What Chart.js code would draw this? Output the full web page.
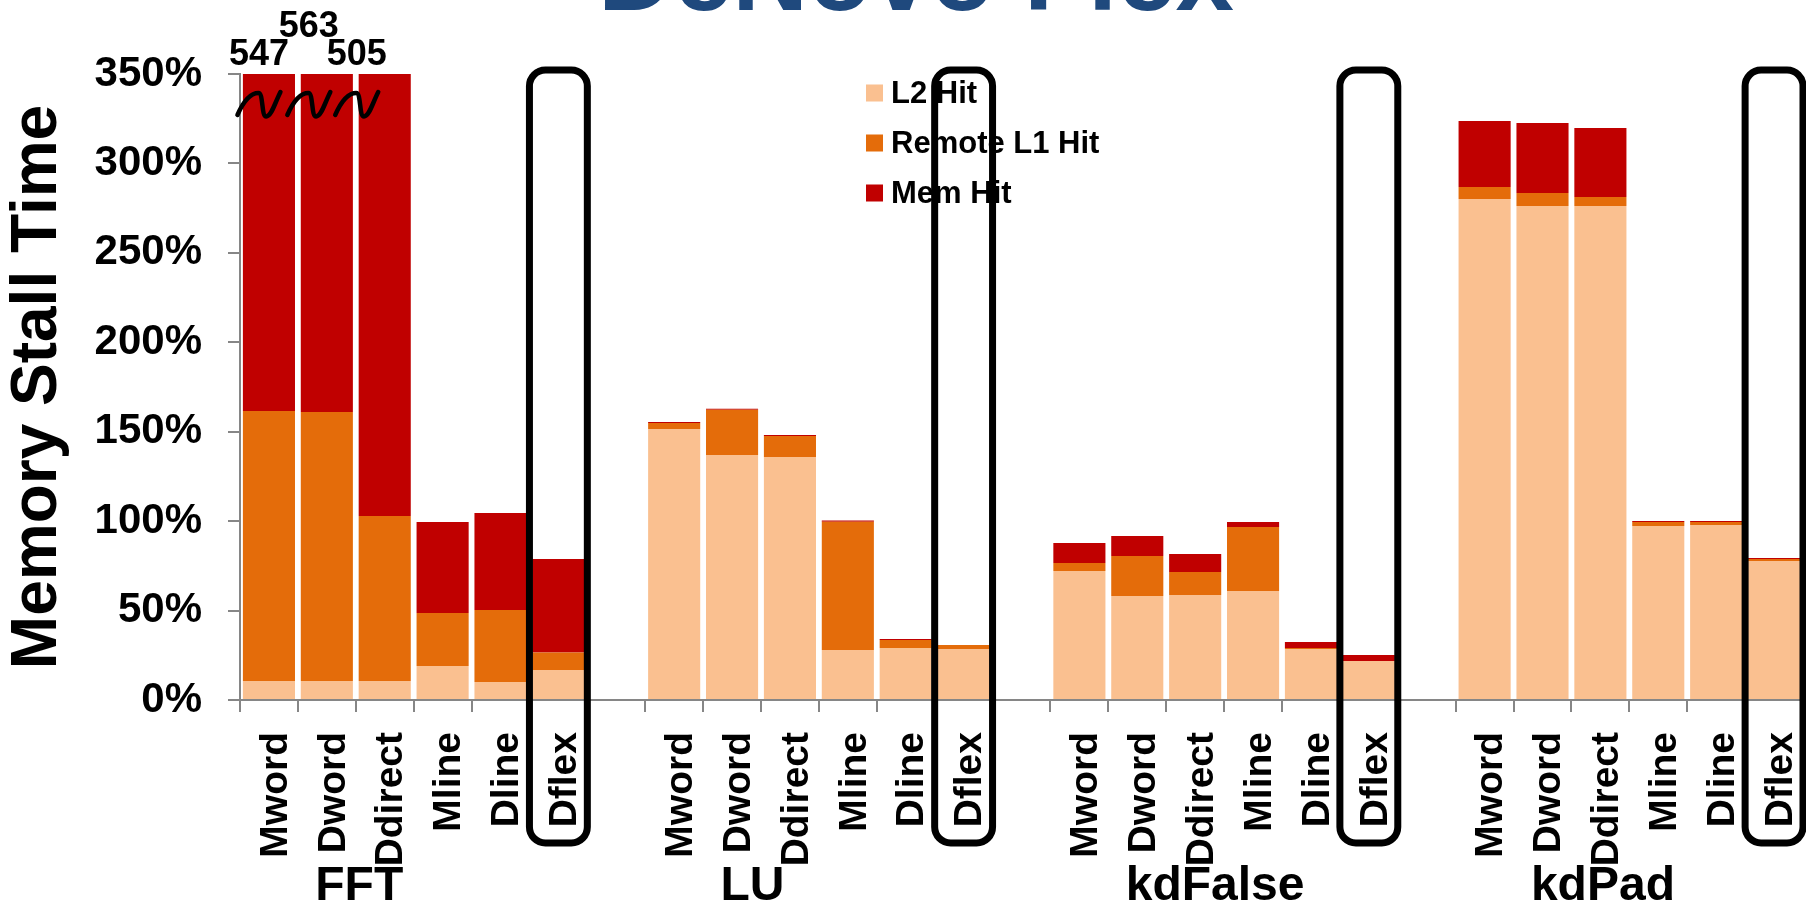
<!DOCTYPE html>
<html>
<head>
<meta charset="utf-8">
<script src="https://cdn.jsdelivr.net/npm/chart.js@4.4.1/dist/chart.umd.min.js"></script>
<style>
  html, body { margin: 0; padding: 0; background: #ffffff; }
  #wrap { width: 1806px; height: 908px; position: relative; }
</style>
</head>
<body>
<div id="wrap"><canvas id="chart" width="1806" height="908"></canvas></div>
<script>
// Benchmarks and the coherence configurations run for each of them
const benchmarks = ['FFT', 'LU', 'kdFalse', 'kdPad'];
const configs = ['Mword', 'Dword', 'Ddirect', 'Mline', 'Dline', 'Dflex'];

// One category per bar, with an empty slot separating the benchmarks
const categories = [
  'Mword', 'Dword', 'Ddirect', 'Mline', 'Dline', 'Dflex', '',
  'Mword', 'Dword', 'Ddirect', 'Mline', 'Dline', 'Dflex', '',
  'Mword', 'Dword', 'Ddirect', 'Mline', 'Dline', 'Dflex', '',
  'Mword', 'Dword', 'Ddirect', 'Mline', 'Dline', 'Dflex'
];

// Memory stall time components (% of baseline)
const l2Hit = [
  10.6, 10.6, 10.6, 19.0, 10.1, 16.8, null,
  151.5, 137.0, 135.9, 28.0, 29.1, 28.5, null,
  72.1, 58.1, 58.7, 60.9, 28.5, 21.8, null,
  280.1, 276.2, 276.2, 97.3, 97.8, 77.7
];
const remoteL1Hit = [
  151.0, 150.4, 92.3, 29.6, 40.2, 9.7, null,
  3.4, 25.3, 11.7, 71.7, 4.4, 2.2, null,
  4.5, 22.4, 12.9, 35.8, 0.6, 0.0, null,
  6.7, 7.3, 5.0, 2.2, 1.7, 1.1
];
const memHit = [
  385.4, 402.0, 402.1, 50.9, 54.2, 52.3, null,
  0.5, 0.6, 0.6, 0.6, 0.6, 0.0, null,
  11.2, 11.2, 10.0, 2.8, 3.3, 3.4, null,
  36.9, 39.1, 38.6, 0.6, 0.6, 0.6
];

const yMax = 350;
const yStep = 50;

const FONT = 'Liberation Sans, Arial, sans-serif';
const AXIS_GREY = '#868686';

// Overlays: cut-off totals with break marks, legend, benchmark names,
// highlight frames around Dflex, and the heading above the plot
const overlays = {
  id: 'overlays',
  afterDatasetsDraw(chart) {
    const { ctx, chartArea, scales: { x } } = chart;
    const ds = chart.data.datasets;
    const nudges = [-10, -18, -28];
    let n = 0;
    chart.data.labels.forEach((lab, i) => {
      let total = 0;
      ds.forEach(d => { total += d.data[i] || 0; });
      if (total <= yMax) return;
      const cx = x.getPixelForValue(i) + (nudges[n] || -10);
      // break mark across the clipped bar
      const cy = chartArea.top + 29;
      ctx.save();
      ctx.strokeStyle = '#000';
      ctx.lineWidth = 4.5;
      ctx.lineCap = 'round';
      ctx.lineJoin = 'round';
      ctx.beginPath();
      const S = [cx - 21.5, cy + 12], P = [cx - 0.5, cy - 10], T = [cx + 7.3, cy + 13.5], E = [cx + 21.5, cy - 11];
      ctx.moveTo(S[0], S[1]);
      ctx.bezierCurveTo(S[0] + 7, S[1] - 16, P[0] - 7, P[1], P[0], P[1]);
      ctx.bezierCurveTo(P[0] + 5, P[1], T[0] - 5, T[1], T[0], T[1]);
      ctx.bezierCurveTo(T[0] + 5, T[1], E[0] - 6, E[1] + 12, E[0], E[1]);
      ctx.stroke();
      // total value above the plot
      ctx.fillStyle = '#000';
      ctx.font = 'bold 36px ' + FONT;
      ctx.textAlign = 'center';
      ctx.textBaseline = 'alphabetic';
      const base = (n % 2 === 1) ? chartArea.top - 37 : chartArea.top - 9;
      ctx.fillText(String(Math.round(total)), cx, base);
      ctx.restore();
      n++;
    });
  },
  afterDraw(chart) {
    const { ctx, chartArea, scales: { x } } = chart;
    const cw = x.getPixelForValue(1) - x.getPixelForValue(0);
    ctx.save();

    // legend
    ctx.font = 'bold 31px ' + FONT;
    ctx.textAlign = 'left';
    ctx.textBaseline = 'middle';
    chart.data.datasets.forEach((d, k) => {
      const cy = 93 + k * 50;
      ctx.fillStyle = d.backgroundColor;
      ctx.fillRect(866, cy - 8.5, 17, 17);
      ctx.fillStyle = '#000';
      ctx.fillText(d.label, 891, cy + 1);
    });

    // benchmark names under each group
    ctx.font = 'bold 48px ' + FONT;
    ctx.textBaseline = 'alphabetic';
    ctx.fillStyle = '#000';
    const groupLen = configs.length + 1;
    benchmarks.forEach((b, g) => {
      const start = x.getPixelForValue(g * groupLen) - cw / 2;
      ctx.fillText(b, start + 1.3 * cw, 900);
    });

    // rounded frames around the Dflex columns
    ctx.strokeStyle = '#000';
    ctx.lineWidth = 7;
    benchmarks.forEach((b, g) => {
      const idx = g * groupLen + configs.indexOf('Dflex');
      const c = x.getPixelForValue(idx);
      const l = c - cw / 2, r = c + cw / 2;
      const t = chartArea.top - 4, btm = 843, rad = 16;
      ctx.beginPath();
      ctx.moveTo(l + rad, t);
      ctx.lineTo(r - rad, t);
      ctx.arcTo(r, t, r, t + rad, rad);
      ctx.lineTo(r, btm - rad);
      ctx.arcTo(r, btm, r - rad, btm, rad);
      ctx.lineTo(l + rad, btm);
      ctx.arcTo(l, btm, l, btm - rad, rad);
      ctx.lineTo(l, t + rad);
      ctx.arcTo(l, t, l + rad, t, rad);
      ctx.closePath();
      ctx.stroke();
    });

    // heading
    ctx.font = 'bold 105px ' + FONT;
    ctx.textAlign = 'center';
    ctx.fillStyle = '#1F497D';
    ctx.fillText('DeNovo Flex', 916, 10);
    ctx.restore();
  }
};

const barOpts = { barPercentage: 0.9, categoryPercentage: 1.0, borderWidth: 0 };

new Chart(document.getElementById('chart'), {
  type: 'bar',
  data: {
    labels: categories,
    datasets: [
      Object.assign({ label: 'L2 Hit', data: l2Hit, backgroundColor: '#FAC090' }, barOpts),
      Object.assign({ label: 'Remote L1 Hit', data: remoteL1Hit, backgroundColor: '#E46C0A' }, barOpts),
      Object.assign({ label: 'Mem Hit', data: memHit, backgroundColor: '#C00000' }, barOpts)
    ]
  },
  options: {
    responsive: false,
    animation: false,
    devicePixelRatio: 1,
    layout: { padding: { top: 74, right: 3, bottom: 0, left: 0 } },
    plugins: {
      legend: { display: false },
      tooltip: { enabled: false },
      title: { display: false }
    },
    scales: {
      x: {
        stacked: true,
        offset: true,
        grid: { offset: true, drawOnChartArea: false, drawTicks: true, tickLength: 12, color: AXIS_GREY, lineWidth: 2 },
        border: { display: true, color: AXIS_GREY, width: 2 },
        ticks: {
          autoSkip: false, minRotation: 90, maxRotation: 90, padding: 20, labelOffset: 7,
          color: '#000', font: { family: FONT, weight: 'bold', size: 39 }
        },
        afterFit(s) {
          s.height = 208;
          s.paddingLeft = 0;
          s.paddingRight = 0;
        }
      },
      y: {
        stacked: true,
        min: 0,
        max: yMax,
        grid: { drawOnChartArea: false, drawTicks: true, tickLength: 12, color: AXIS_GREY, lineWidth: 2 },
        border: { display: true, color: AXIS_GREY, width: 2 },
        ticks: {
          stepSize: yStep, padding: 26, color: '#000',
          font: { family: FONT, weight: 'bold', size: 42 },
          callback: v => v + '%'
        },
        title: {
          display: true, text: 'Memory Stall Time', color: '#000', padding: 0,
          font: { family: FONT, weight: 'bold', size: 64 }
        },
        afterFit(s) {
          s.width = 240;
          s.paddingTop = 0;
          s.paddingBottom = 0;
        }
      }
    }
  },
  plugins: [overlays]
});
</script>
</body>
</html>
